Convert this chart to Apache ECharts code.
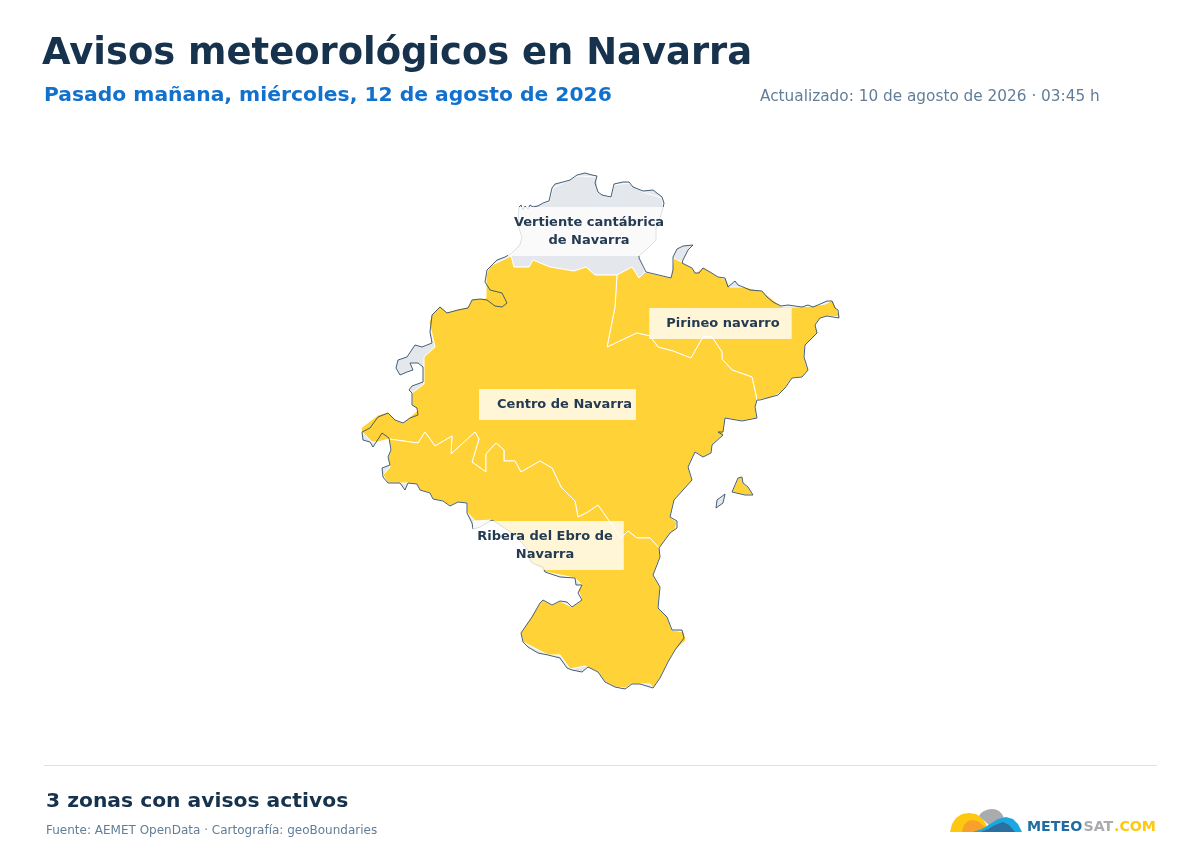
<!DOCTYPE html>
<html>
<head>
<meta charset="utf-8">
<title>Avisos meteorológicos en Navarra</title>
<script src="https://cdn.jsdelivr.net/npm/echarts@6/dist/echarts.min.js"></script>
<style>
  html, body { margin: 0; background: #fff; }
  #chart { width: 1200px; height: 850px; }
</style>
</head>
<body>
<div id="chart"></div>
<script>
// contours, in map units
const provinceRing = [[519,207],[521,205],[523,210],[525,206],[528,209],[530,205],[533,207],[538,206],[543,203],[549,201],[552,188],[555,184],[563,182],[570,180],[577,175],[585,173],[592,175],[597,176],[595,183],[598,192],[602,195],[611,197],[614,184],[623,182],[629,182],[633,187],[643,191],[653,190],[662,197],[664,203],[663,208],[660,218],[656,228],[656,240],[648,248],[639,256],[639,258],[646,272],[671,278],[673,270],[673,257],[677,249],[683,246],[693,245],[688,250],[683,260],[682,263],[692,268],[695,273],[699,273],[703,268],[710,272],[718,277],[725,278],[728,287],[735,281],[738,285],[743,287],[750,290],[762,291],[767,297],[773,302],[781,306],[788,305],[795,306],[802,307],[808,305],[813,307],[818,305],[827,301],[832,301],[835,308],[838,310],[839,318],[827,316],[820,318],[815,325],[817,333],[805,345],[804,357],[808,370],[802,377],[792,378],[785,388],[778,395],[760,400],[757,400],[755,407],[757,418],[742,421],[725,418],[723,432],[718,432],[723,435],[712,445],[711,453],[703,457],[695,452],[688,467],[692,480],[683,490],[674,500],[670,517],[677,521],[677,528],[670,533],[659,548],[660,557],[653,575],[660,587],[658,608],[667,617],[672,630],[682,630],[684,638],[675,650],[668,662],[660,678],[653,688],[640,684],[632,684],[625,689],[615,687],[605,682],[598,672],[588,667],[582,672],[572,670],[567,668],[560,658],[548,655],[538,653],[528,647],[523,642],[521,633],[532,617],[540,603],[543,600],[552,605],[560,601],[567,602],[572,607],[582,600],[578,593],[582,585],[576,585],[575,578],[560,577],[545,572],[543,567],[532,563],[530,560],[528,550],[515,535],[503,527],[492,520],[480,527],[473,529],[472,523],[467,513],[467,503],[458,502],[450,506],[443,501],[433,499],[430,493],[420,490],[417,484],[408,483],[405,490],[400,483],[388,483],[383,477],[382,468],[390,465],[388,457],[391,450],[389,438],[382,433],[373,447],[370,442],[363,440],[362,432],[370,428],[378,417],[388,413],[395,420],[403,423],[410,418],[418,415],[417,408],[412,405],[412,393],[409,390],[412,386],[423,382],[423,367],[418,363],[410,363],[413,370],[407,372],[400,375],[396,368],[398,360],[407,357],[415,345],[422,347],[432,343],[430,332],[432,315],[440,307],[447,313],[458,310],[468,308],[472,300],[480,299],[487,300],[495,306],[502,307],[507,303],[502,293],[490,290],[485,282],[487,270],[497,260],[505,257],[512,253],[520,245],[522,237],[518,225]];
const petillaRing = [[716,508],[717,500],[725,494],[726,495],[723,503]];
const aibarRing = [[732,492],[738,478],[742,477],[743,483],[748,487],[753,495],[745,495]];
const vertienteRing = [[519,208],[549,202],[553,188],[577,176],[597,177],[598,192],[611,198],[614,185],[629,183],[643,192],[662,198],[663,208],[656,228],[656,240],[639,256],[645,272],[639,278],[632,267],[617,275],[595,275],[586,267],[574,271],[550,267],[533,260],[529,267],[514,267],[511,256],[522,237]];
const pirineoRing = [[617,275],[632,267],[639,278],[645,272],[671,278],[674,258],[683,263],[692,268],[696,273],[703,267],[718,277],[726,279],[730,287],[745,287],[762,291],[782,307],[795,307],[812,306],[825,304],[833,300],[840,317],[828,316],[820,318],[815,325],[818,333],[805,345],[804,357],[808,370],[802,377],[792,378],[782,392],[770,398],[757,400],[752,377],[732,370],[722,359],[722,352],[712,337],[703,337],[691,358],[673,351],[658,347],[650,336],[637,333],[607,347],[615,307]];
const centroRing = [[511,256],[514,267],[529,267],[533,260],[550,267],[574,271],[586,267],[595,275],[617,275],[615,307],[607,347],[637,333],[650,336],[658,347],[673,351],[691,358],[703,337],[712,337],[722,352],[722,359],[732,370],[752,377],[757,400],[755,407],[757,418],[742,421],[725,418],[723,435],[712,445],[711,453],[703,457],[695,452],[688,467],[692,480],[683,490],[674,500],[670,517],[677,522],[675,530],[670,533],[659,548],[650,538],[637,538],[628,531],[621,538],[598,505],[588,512],[578,517],[575,501],[561,487],[552,468],[540,461],[521,472],[515,461],[504,461],[504,450],[496,443],[486,454],[486,472],[472,462],[479,439],[475,432],[451,454],[452,436],[435,446],[425,432],[418,443],[389,439],[378,442],[372,442],[362,432],[361,428],[378,415],[388,412],[396,420],[403,423],[412,415],[418,410],[412,405],[412,393],[424,384],[424,357],[435,347],[431,330],[429,323],[432,314],[440,306],[447,312],[458,309],[468,307],[472,299],[486,298],[486,275],[490,266]];
const riberaRing = [[659,548],[650,538],[637,538],[628,531],[621,538],[598,505],[588,512],[578,517],[575,501],[561,487],[552,468],[540,461],[521,472],[515,461],[504,461],[504,450],[496,443],[486,454],[486,472],[472,462],[479,439],[475,432],[451,454],[452,436],[435,446],[425,432],[418,443],[389,439],[391,450],[388,457],[390,467],[383,475],[388,483],[400,483],[408,483],[417,484],[420,490],[430,493],[433,499],[443,501],[450,506],[458,502],[467,503],[467,512],[475,521],[492,520],[515,537],[528,550],[530,562],[545,572],[575,578],[582,585],[578,590],[582,600],[572,607],[560,601],[552,605],[543,600],[540,603],[521,633],[523,642],[548,655],[560,655],[570,669],[585,666],[598,672],[605,682],[615,687],[625,688],[632,684],[650,684],[653,688],[660,678],[668,662],[675,650],[686,640],[684,632],[672,630],[667,617],[658,608],[660,587],[653,575],[660,557]];

const zoneNames = ['Vertiente cantábrica\nde Navarra', 'Pirineo navarro', 'Centro de Navarra', 'Ribera del Ebro de\nNavarra'];
const zoneAnchors = [[589, 231.5], [720.5, 323.5], [557.5, 404.5], [548.5, 545.5]];
const zonePadding = [[7.5, 6, 5.5, 6], [7.5, 12, 5.5, 17], [7.5, 4, 5.5, 18], [7.5, 11, 5.5, 4]];

// logo shapes, top-left to right
const logoSun = [[950,832],[952,824],[956,818],[962,814],[969,813],[976,814],[982,818],[986,824],[988,832]];
const logoCloud = [[979,816],[981,813],[984,811],[988,809.5],[992,809],[996,809.5],[999,811],[1002,814],[1004,818],[990,826]];
const logoInner = [[962,832],[964,825],[968,821],[973,820],[979,822],[987,829],[980,832]];
const logoWave = [[973,832],[982,829],[990,824],[998,819],[1006,817],[1013,819],[1018,824],[1022,832]];
const logoWaveDark = [[981,832],[988,829],[995,825],[1003,822],[1009,825],[1015,832]];

function feature(name, rings) {
  return {
    type: 'Feature',
    properties: { name: name },
    geometry: { type: 'MultiPolygon', coordinates: rings.map((r) => [r.concat([r[0]])]) },
  };
}

echarts.registerMap('navarra', {
  type: 'FeatureCollection',
  features: [
    feature('Base', [provinceRing, petillaRing, aibarRing]),
    feature('Vertiente', [vertienteRing]),
    feature('Pirineo', [pirineoRing]),
    feature('Centro', [centroRing, aibarRing]),
    feature('Ribera', [riberaRing]),
    feature('Contorno', [provinceRing, petillaRing, aibarRing]),
  ],
});

const yellowZone = { areaColor: '#ffd338', borderColor: '#ffffff', borderWidth: 1 };

function heading(text, left, top, fontSize, fontWeight, color) {
  return { text: text, left: left, top: top, padding: 0, textStyle: { fontSize: fontSize, fontWeight: fontWeight, color: color, fontFamily: 'DejaVu Sans' } };
}

const chart = echarts.init(document.getElementById('chart'), null, { renderer: 'canvas' });
chart.setOption({
  animation: false,
  backgroundColor: '#ffffff',
  textStyle: { fontFamily: 'DejaVu Sans' },
  title: [
    heading('Avisos meteorológicos en Navarra', 42, 36, 36.9, 'bold', '#17324d'),
    heading('Pasado mañana, miércoles, 12 de agosto de 2026', 44, 86, 20.3, 'bold', '#1271cc'),
    heading('Actualizado: 10 de agosto de 2026 · 03:45 h', 760, 90, 15.3, 'normal', '#627d98'),
    heading('3 zonas con avisos activos', 46, 792, 20.3, 'bold', '#17324d'),
    heading('Fuente: AEMET OpenData · Cartografía: geoBoundaries', 46, 825, 12, 'normal', '#627d98'),
  ],
  geo: {
    map: 'navarra',
    projection: { project: (p) => p, unproject: (p) => p },
    left: 361,
    top: 173,
    width: 479,
    height: 516,
    aspectScale: 1,
    roam: false,
    silent: true,
    label: { show: false },
    itemStyle: { areaColor: '#e4e7ec', borderWidth: 0 },
    emphasis: { disabled: true },
    regions: [
      { name: 'Base', itemStyle: { areaColor: '#e4e7ec', borderWidth: 0 } },
      { name: 'Vertiente', itemStyle: { areaColor: '#e4e7ec', borderColor: '#ffffff', borderWidth: 1 } },
      { name: 'Pirineo', itemStyle: yellowZone },
      { name: 'Centro', itemStyle: yellowZone },
      { name: 'Ribera', itemStyle: yellowZone },
      { name: 'Contorno', itemStyle: { areaColor: 'rgba(0,0,0,0)', borderColor: '#334e68', borderWidth: 0.9 } },
    ],
  },
  series: [
    {
      type: 'scatter',
      coordinateSystem: 'geo',
      symbolSize: 1,
      itemStyle: { color: 'rgba(0,0,0,0)', opacity: 1 },
      silent: true,
      z: 5,
      data: zoneNames.map((name, i) => ({
        name: name,
        value: zoneAnchors[i],
        label: { padding: zonePadding[i] },
      })),
      label: {
        show: true,
        position: 'inside',
        formatter: '{b}',
        align: 'center',
        verticalAlign: 'middle',
        fontFamily: 'DejaVu Sans',
        fontSize: 13,
        fontWeight: 'bold',
        lineHeight: 18,
        color: '#243b53',
        backgroundColor: 'rgba(255,255,255,0.8)',
      },
    },
  ],
  graphic: [
    { type: 'line', shape: { x1: 44, y1: 765.5, x2: 1157, y2: 765.5 }, style: { stroke: '#d9e2ec', lineWidth: 1 } },
    { type: 'polygon', shape: { points: logoSun }, style: { fill: '#fdc80f' } },
    { type: 'polygon', shape: { points: logoCloud }, style: { fill: '#a9abae' } },
    { type: 'polygon', shape: { points: logoInner }, style: { fill: '#f8a02c' } },
    { type: 'polygon', shape: { points: logoWave }, style: { fill: '#1ba7df' } },
    { type: 'polygon', shape: { points: logoWaveDark }, style: { fill: '#2a6f9e' } },
    { type: 'text', x: 1027, y: 820, style: { text: 'METEO', fill: '#1f6ea3', font: 'bold 14.2px "DejaVu Sans"' } },
    { type: 'text', x: 1083.5, y: 820, style: { text: 'SAT', fill: '#a9abae', font: 'bold 14.2px "DejaVu Sans"' } },
    { type: 'text', x: 1114, y: 820, style: { text: '.COM', fill: '#fdc80f', font: 'bold 14.2px "DejaVu Sans"' } },
  ],
});
</script>
</body>
</html>
